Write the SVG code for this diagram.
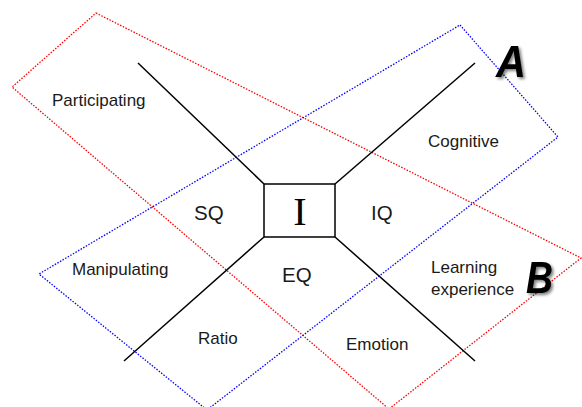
<svg xmlns="http://www.w3.org/2000/svg" width="582" height="407" viewBox="0 0 582 407">
<style>
.lbl{font-family:"Liberation Sans",Arial,sans-serif;font-size:17px;fill:#1a1a1a}
.q{font-family:"Liberation Sans",Arial,sans-serif;font-size:20.5px;fill:#1a1a1a}
.big{font-family:"Liberation Sans",Arial,sans-serif;font-size:45px;font-style:italic;font-weight:bold;fill:#000}
.ax{stroke:#000;stroke-width:1.5;fill:none}
.dotr{fill:none;stroke:#ff0000;stroke-width:1.3;stroke-dasharray:1.5 1.5}
.dotb{fill:none;stroke:#0000ff;stroke-width:1.3;stroke-dasharray:1.5 1.5}
</style>
<defs>
<filter id="sh" x="-30%" y="-30%" width="160%" height="160%">
<feGaussianBlur in="SourceAlpha" stdDeviation="1.5"/>
<feOffset dx="2" dy="2" result="b"/>
<feComponentTransfer><feFuncA type="linear" slope="0.5"/></feComponentTransfer>
<feMerge><feMergeNode/><feMergeNode in="SourceGraphic"/></feMerge>
</filter>
</defs>
<rect width="582" height="407" fill="#fff"/>
<g id="regionB">
<polygon class="dotr" points="96,13 581,258 389,409 12,87"/>
</g>
<g id="regionA">
<polygon class="dotb" points="460,25 558,137 207,410 39,274"/>
</g>
<g id="connectors">
<line class="ax" x1="264" y1="184" x2="138" y2="63"/>
<line class="ax" x1="335" y1="184" x2="475" y2="63"/>
<line class="ax" x1="264" y1="237" x2="124" y2="361"/>
<line class="ax" x1="335" y1="237" x2="475" y2="361"/>
</g>
<g id="center">
<rect x="264" y="184" width="71" height="53" fill="#fff" stroke="#000" stroke-width="1.5"/>
<text x="300" y="225" text-anchor="middle" font-family="Liberation Serif,Times New Roman,serif" font-size="40" fill="#000">I</text>
</g>
<g id="labels">
<text class="lbl" x="52" y="106">Participating</text>
<text class="lbl" x="428" y="147">Cognitive</text>
<text class="lbl" x="72" y="275">Manipulating</text>
<text class="lbl" x="198" y="344">Ratio</text>
<text class="lbl" x="346" y="350">Emotion</text>
<text class="lbl" x="431" y="273">Learning</text>
<text class="lbl" x="431" y="295">experience</text>
<text class="q" x="194" y="220">SQ</text>
<text class="q" x="371" y="220">IQ</text>
<text class="q" x="282" y="282">EQ</text>
</g>
<g id="markA">
<text class="big" x="496" y="77" textLength="30" lengthAdjust="spacingAndGlyphs" filter="url(#sh)">A</text>
</g>
<g id="markB">
<text class="big" x="526" y="293" textLength="27" lengthAdjust="spacingAndGlyphs" filter="url(#sh)">B</text>
</g>
</svg>
